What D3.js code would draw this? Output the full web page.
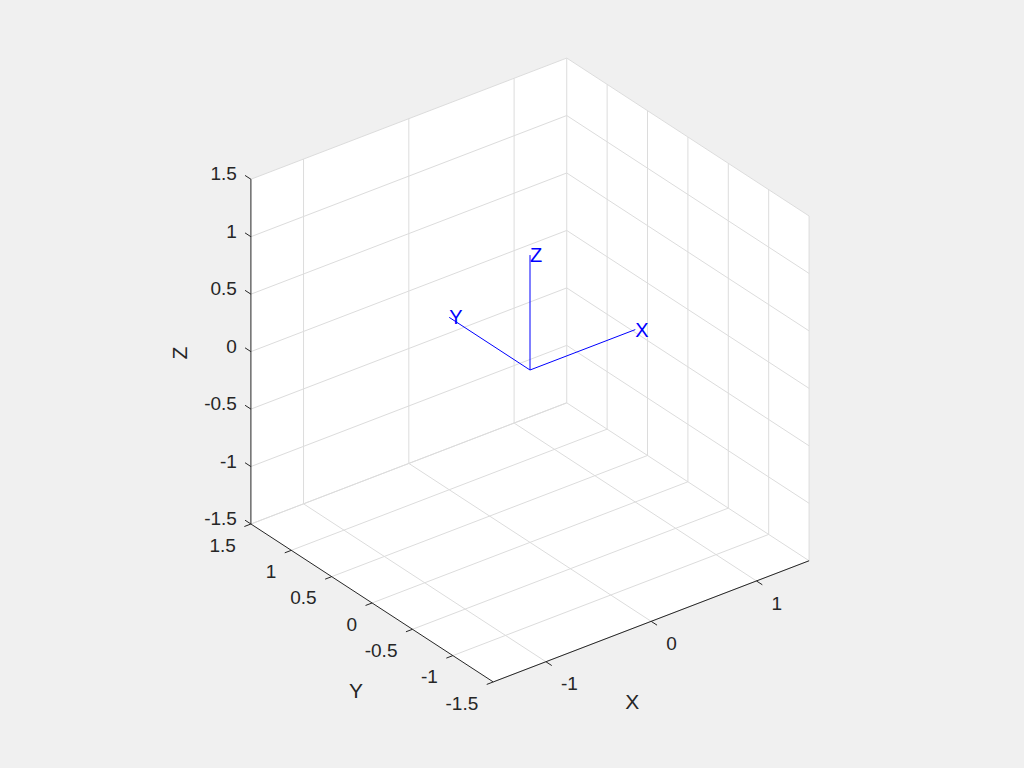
<!DOCTYPE html>
<html>
<head>
<meta charset="utf-8">
<script src="https://cdn.jsdelivr.net/npm/d3@7"></script>
<style>
  html, body { margin: 0; padding: 0; background: #f0f0f0; }
  svg { display: block; }
  text { font-family: "Liberation Sans", Arial, Helvetica, sans-serif; }
</style>
</head>
<body>
<svg id="chart" width="1024" height="768"></svg>
<script>
'use strict'

// axis limits and ticks
const xLim = [-1.5, 1.5]
const yLim = [-1.5, 1.5]
const zLim = [-1.5, 1.5]
const xTicks = [-1, 0, 1]
const yTicks = [-1.5, -1, -0.5, 0, 0.5, 1, 1.5]
const zTicks = [-1.5, -1, -0.5, 0, 0.5, 1, 1.5]
const axisNames = ['X', 'Y', 'Z']

// coordinate frame drawn in the middle (origin + unit vectors)
const frameOrigin = [0, 0, 0]
const frameTips = [[1, 0, 0], [0, 1, 0], [0, 0, 1]]
const frameLabels = ['X', 'Y', 'Z']

const cfg = {
  w: 1024,
  h: 768,
  cx: 530,
  cy: 370,
  s: 132.7,       // pixels per data unit
  az: -37.5,      // matlab default 3d view
  el: 30,
  tickLen: 7,
  gridColor: '#dcdcdc',
  axisColor: '#262626',
  tickFont: 19,
  labelFont: 21,
  frameFont: 20,
}

const svg = d3.select('#chart')

// data -> data units (equal aspect, so identity here)
const xs = d3.scaleLinear().domain(xLim).range(xLim)
const ys = d3.scaleLinear().domain(yLim).range(yLim)
const zs = d3.scaleLinear().domain(zLim).range(zLim)

// screen scales for projected coords
const sx = d3.scaleLinear().domain([0, 1]).range([cfg.cx, cfg.cx + cfg.s])
const sy = d3.scaleLinear().domain([0, 1]).range([cfg.cy, cfg.cy - cfg.s])

const az = cfg.az * Math.PI / 180,
      el = cfg.el * Math.PI / 180

function project(x, y, z){
  let X = xs(x), Y = ys(y), Z = zs(z)
  let u = X * Math.cos(az) + Y * Math.sin(az)
  let v = -Math.sin(el) * Math.sin(az) * X + Math.sin(el) * Math.cos(az) * Y + Math.cos(el) * Z
  return [sx(u), sy(v)]
}

// unit screen direction of a data axis direction
function screenDir(d){
  let a = project(0, 0, 0), b = project(d[0], d[1], d[2])
  let dx = b[0] - a[0], dy = b[1] - a[1], l = Math.hypot(dx, dy)
  return [dx / l, dy / l]
}

const line = d3.line()

// white box background (projected hull of the cube)
const hull = [
  [xLim[0], yLim[1], zLim[1]], [xLim[1], yLim[1], zLim[1]], [xLim[1], yLim[0], zLim[1]],
  [xLim[1], yLim[0], zLim[0]], [xLim[0], yLim[0], zLim[0]], [xLim[0], yLim[1], zLim[0]]
].map(p => project(...p))
svg.append('path').attr('d', line(hull) + 'Z').attr('fill', '#ffffff')

// grid lines on back walls
const grid = svg.append('g').attr('class', 'grid')
  .attr('stroke', cfg.gridColor).attr('stroke-width', 1).attr('fill', 'none')

function seg(g, p, q){
  g.append('path').attr('d', line([project(...p), project(...q)]))
}

// wall y = yMax
xTicks.forEach(t => seg(grid, [t, yLim[1], zLim[0]], [t, yLim[1], zLim[1]]))
zTicks.forEach(t => seg(grid, [xLim[0], yLim[1], t], [xLim[1], yLim[1], t]))
// wall x = xMax
yTicks.forEach(t => seg(grid, [xLim[1], t, zLim[0]], [xLim[1], t, zLim[1]]))
zTicks.forEach(t => seg(grid, [xLim[1], yLim[0], t], [xLim[1], yLim[1], t]))
// floor z = zMin
xTicks.forEach(t => seg(grid, [t, yLim[0], zLim[0]], [t, yLim[1], zLim[0]]))
yTicks.forEach(t => seg(grid, [xLim[0], t, zLim[0]], [xLim[1], t, zLim[0]]))

// axis lines
const axes = svg.append('g').attr('class', 'axes')
  .attr('stroke', cfg.axisColor).attr('stroke-width', 1).attr('fill', 'none')
seg(axes, [xLim[0], yLim[0], zLim[0]], [xLim[1], yLim[0], zLim[0]])
seg(axes, [xLim[0], yLim[0], zLim[0]], [xLim[0], yLim[1], zLim[0]])
seg(axes, [xLim[0], yLim[1], zLim[0]], [xLim[0], yLim[1], zLim[1]])

// ticks
const ticks = svg.append('g').attr('class', 'ticks')
  .attr('stroke', cfg.axisColor).attr('stroke-width', 1).attr('fill', 'none')
const labels = svg.append('g').attr('class', 'tick-labels')
  .attr('fill', '#262626').attr('font-size', cfg.tickFont)

function drawTicks(vals, pos, dir, lab){
  let d = screenDir(dir)
  vals.forEach(t => {
    let p = project(...pos(t))
    ticks.append('path').attr('d', line([p, [p[0] + d[0] * cfg.tickLen, p[1] + d[1] * cfg.tickLen]]))
    lab(labels.append('text').text(String(t)), p)
  })
}

// x ticks along y = yMin, z = zMin, pointing -y
drawTicks(xTicks, t => [t, yLim[0], zLim[0]], [0, -1, 0], (txt, p) =>
  txt.attr('x', p[0] + 15).attr('y', p[1] + 22).attr('dy', '0.35em').attr('text-anchor', 'start'))
// y ticks along x = xMin, z = zMin, pointing -x
drawTicks(yTicks, t => [xLim[0], t, zLim[0]], [-1, 0, 0], (txt, p) =>
  txt.attr('x', p[0] - 15).attr('y', p[1] + 21).attr('dy', '0.35em').attr('text-anchor', 'end'))
// z ticks along x = xMin, y = yMax, pointing +y
drawTicks(zTicks, t => [xLim[0], yLim[1], t], [0, 1, 0], (txt, p) =>
  txt.attr('x', p[0] - 14).attr('y', p[1] - 5.5).attr('dy', '0.35em').attr('text-anchor', 'end'))

// axis labels
const axLab = svg.append('g').attr('class', 'axis-labels')
  .attr('fill', '#262626').attr('font-size', cfg.labelFont).attr('text-anchor', 'middle')
let mx = project(d3.mean(xLim), yLim[0], zLim[0])
axLab.append('text').text(axisNames[0])
  .attr('x', mx[0] - 19).attr('y', mx[1] + 80).attr('dy', '0.35em')
let my = project(xLim[0], d3.mean(yLim), zLim[0])
axLab.append('text').text(axisNames[1])
  .attr('x', my[0] - 16).attr('y', my[1] + 88).attr('dy', '0.35em')
let mz = project(xLim[0], yLim[1], d3.mean(zLim))
axLab.append('text').text(axisNames[2])
  .attr('transform', `translate(${mz[0] - 71.5} ${mz[1] + 1.5}) rotate(-90)`)
  .attr('dy', '0.35em')

// coordinate frame
const frame = svg.append('g').attr('class', 'frame')
let o = project(...frameOrigin)
frameTips.forEach((tip, i) => {
  let p = project(...tip)
  frame.append('path').attr('d', line([o, p]))
    .attr('stroke', '#0000ff').attr('stroke-width', 1).attr('fill', 'none')
  frame.append('text').text(frameLabels[i])
    .attr('x', p[0]).attr('y', p[1]).attr('dy', '0.35em')
    .attr('fill', '#0000ff').attr('font-size', cfg.frameFont)
})
</script>
</body>
</html>
